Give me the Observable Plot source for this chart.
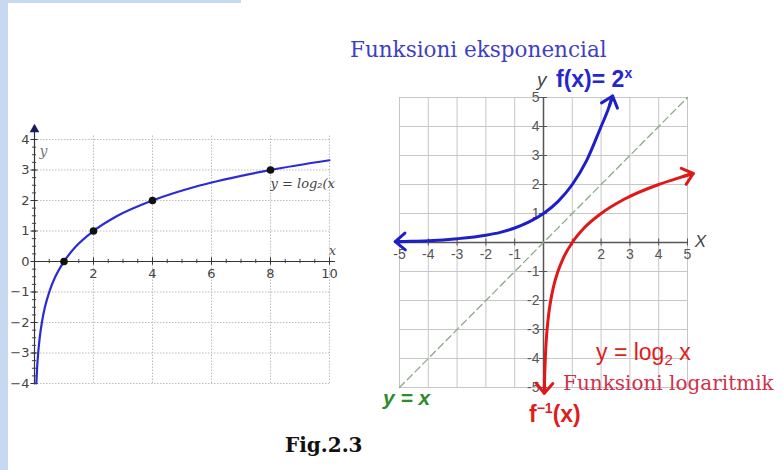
<!DOCTYPE html>
<html>
<head>
<meta charset="utf-8">
<script src="https://cdn.jsdelivr.net/npm/d3@7"></script>
<script src="https://cdn.jsdelivr.net/npm/@observablehq/plot@0.6"></script>
<style>
  html, body { margin: 0; padding: 0; background: #fff; }
  #page { position: relative; width: 782px; height: 470px; overflow: hidden; background: #fff; }
  .band { position: absolute; background: #c6d9f1; }
  .lbl { position: absolute; white-space: nowrap; line-height: 1; }
  #left, #right { position: absolute; }
  .serif { font-family: "DejaVu Serif", serif; }
  .sans { font-family: "Liberation Sans", Arial, sans-serif; }
  sup, sub { line-height: 0; }
</style>
</head>
<body>
<div id="page">
  <div class="band" style="left:0;top:0;width:8px;height:470px"></div>
  <div class="band" style="left:0;top:0;width:241px;height:3px"></div>
  <div id="left" style="left:0;top:110px"></div>
  <div id="right" style="left:370px;top:60px"></div>

  <div class="lbl serif" style="left:350px;top:39px;font-size:21.5px;color:#3f3fc4">Funksioni eksponencial</div>
  <div class="lbl sans" style="left:556px;top:68px;font-size:23px;font-weight:bold;color:#2626cc">f(x)= 2<sup style="font-size:14px;vertical-align:9px">x</sup></div>
  <div class="lbl sans" style="left:596px;top:341px;font-size:23px;color:#e01c1c">y = log<sub style="font-size:15px;vertical-align:-5px">2</sub> x</div>
  <div class="lbl serif" style="left:563px;top:373px;font-size:20px;color:#d0304a">Funksioni logaritmik</div>
  <div class="lbl sans" style="left:529px;top:403px;font-size:23px;font-weight:bold;color:#e01c1c">f<sup style="font-size:14px;vertical-align:9px">&minus;1</sup>(x)</div>
  <div class="lbl sans" style="left:383px;top:387px;font-size:21px;font-weight:bold;font-style:italic;color:#2e8b2e">y = x</div>
  <div class="lbl serif" style="left:285px;top:435px;font-size:20px;font-weight:bold;color:#111">Fig.2.3</div>
</div>
<script>
// ---- left panel: y = log2(x) with marked points ----
const logX = [0.0625, 0.09, 0.125, 0.18, 0.25, 0.35, 0.5, 0.7, 1, 1.4, 2, 2.8, 4, 5.6, 8, 10];
const logY = [-4, -3.47, -3, -2.47, -2, -1.51, -1, -0.51, 0, 0.49, 1, 1.49, 2, 2.49, 3, 3.32];
const markedX = [1, 2, 4, 8];
const markedY = [0, 1, 2, 3];
const leftXTicks = [2, 4, 6, 8, 10];
const leftYTicks = [-4, -3, -2, -1, 0, 1, 2, 3, 4];
const leftGridX = [2, 4, 6, 8, 10];
const leftGridY = [-4, -3, -2, -1, 1, 2, 3, 4];

// ---- right panel: f(x) = 2^x, its inverse log2(x), and y = x ----
const expX = [-5.15, -4.8, -4, -3, -2, -1.5, -1, -0.5, 0, 0.5, 1, 1.5, 2, 2.25, 2.4];
const expY = [0.028, 0.036, 0.06, 0.13, 0.25, 0.35, 0.5, 0.71, 1, 1.41, 2, 2.83, 4, 4.6, 5.05];
const invX = [0.027, 0.035, 0.0625, 0.09, 0.125, 0.18, 0.25, 0.35, 0.5, 0.7, 1, 1.4, 2, 2.8, 4, 4.7, 5.2];
const invY = [-5.2, -4.84, -4, -3.47, -3, -2.47, -2, -1.51, -1, -0.51, 0, 0.49, 1, 1.49, 2, 2.23, 2.38];
const diagX = [-5, 5];
const diagY = [-5, 5];
const gridTicks = [-5, -4, -3, -2, -1, 0, 1, 2, 3, 4, 5];
const rightXLabels = [-5, -4, -3, -2, -1, 2, 3, 4, 5];
const rightYLabels = [5, 4, 3, 2, 1, -1, -2, -3, -4, -5];

const fmt = d => d < 0 ? "\u2212" + Math.abs(d) : String(d);
const zip = (xs, ys) => xs.map((x, i) => ({x, y: ys[i]}));

// Open arrowheads at both ends of a curve. Each arrow runs along the end
// segment's direction; the inset hides its shaft so only the head shows.
function endArrows(pts, color) {
  const n = pts.length;
  const tipFrom = (tip, prev) => {
    const dx = tip.x - prev.x, dy = tip.y - prev.y, len = Math.hypot(dx, dy);
    return {x1: tip.x - dx / len * 1.6, y1: tip.y - dy / len * 1.6, x2: tip.x, y2: tip.y};
  };
  const segs = [tipFrom(pts[0], pts[1]), tipFrom(pts[n - 1], pts[n - 2])];
  return Plot.arrow(segs, {x1: "x1", y1: "y1", x2: "x2", y2: "y2", stroke: color,
    strokeWidth: 3, headLength: 6.5, headAngle: 80, insetStart: 36});
}

const left = Plot.plot({
  width: 341, height: 290,
  marginLeft: 34, marginRight: 12, marginTop: 29, marginBottom: 17,
  x: {domain: [0, 10], axis: null},
  y: {domain: [-4, 4], axis: null},
  style: {background: "transparent", overflow: "hidden", fontFamily: "DejaVu Sans, sans-serif"},
  marks: [
    Plot.ruleX(leftGridX, {y1: -4, y2: 4.15, stroke: "#bdbdbd", strokeDasharray: "1.5,1.5"}),
    Plot.ruleY(leftGridY, {x1: 0, x2: 10, stroke: "#bdbdbd", strokeDasharray: "1.5,1.5"}),
    Plot.ruleY([0], {x1: 0, x2: 10.2, stroke: "#333", strokeWidth: 1.2}),
    Plot.ruleX([0], {y1: -4.05, y2: 4.3, stroke: "#333", strokeWidth: 1.2}),
    Plot.ruleX(d3.range(0.5, 10.01, 0.5), {y1: -0.07, y2: 0.07, stroke: "#444"}),
    Plot.ruleY(d3.range(-4, 4.01, 0.25), {x1: -0.07, x2: 0.07, stroke: "#444"}),
    Plot.ruleX(leftXTicks, {y1: -0.12, y2: 0.12, stroke: "#333"}),
    Plot.ruleY(leftYTicks, {x1: -0.12, x2: 0.12, stroke: "#333"}),
    Plot.dot([{x: 0, y: 4.33}], {x: "x", y: "y", symbol: "triangle", r: 3.6, fill: "#1b1b5e"}),
    Plot.text(leftXTicks, {x: d => d, y: 0, text: fmt, dy: 12, fontSize: 13, fill: "#444"}),
    Plot.text(leftYTicks, {x: 0, y: d => d, text: fmt, dx: -5, textAnchor: "end", fontSize: 13, fill: "#444"}),
    Plot.text([{x: 0, y: 3.6}], {x: "x", y: "y", text: () => "y", dx: 9, fontSize: 14, fontStyle: "italic", fontFamily: "DejaVu Serif, serif", fill: "#777"}),
    Plot.text([{x: 10, y: 0}], {x: "x", y: "y", text: () => "x", dx: 3, dy: -11, fontSize: 13, fontStyle: "italic", fontFamily: "DejaVu Serif, serif", fill: "#555"}),
    Plot.line(zip(logX, logY), {x: "x", y: "y", curve: "monotone-x", stroke: "#2b2bd6", strokeWidth: 2.2}),
    Plot.dot(zip(markedX, markedY), {x: "x", y: "y", r: 3.8, fill: "#111"}),
    Plot.text([{x: 8, y: 3}], {x: "x", y: "y", text: () => "y = log\u2082(x", dy: 14, textAnchor: "start",
      fontSize: 13, fontStyle: "italic", fontFamily: "DejaVu Serif, serif", fill: "#444"})
  ]
});
document.getElementById("left").appendChild(left);

const expPts = zip(expX, expY);
const invPts = zip(invX, invY);

const right = Plot.plot({
  width: 412, height: 370,
  marginLeft: 29, marginRight: 95, marginTop: 37, marginBottom: 43,
  x: {domain: [-5, 5], axis: null},
  y: {domain: [-5, 5], axis: null},
  style: {background: "transparent", overflow: "visible", fontFamily: "Liberation Sans, Arial, sans-serif"},
  marks: [
    Plot.ruleX(gridTicks, {y1: -5, y2: 5, stroke: "#c6c6c6"}),
    Plot.ruleY(gridTicks, {x1: -5, x2: 5, stroke: "#c6c6c6"}),
    Plot.ruleY([0], {x1: -5, x2: 5, stroke: "#555", strokeWidth: 1.5}),
    Plot.ruleX([0], {y1: -5, y2: 5, stroke: "#555", strokeWidth: 1.5}),
    Plot.ruleX(gridTicks, {y1: -0.12, y2: 0.12, stroke: "#555"}),
    Plot.ruleY(gridTicks, {x1: -0.14, x2: 0.14, stroke: "#555"}),
    Plot.line(zip(diagX, diagY), {x: "x", y: "y", stroke: "#8da88d", strokeWidth: 1.3, strokeDasharray: "7,4"}),
    Plot.text(rightXLabels, {x: d => d, y: 0, text: d => String(d), dy: 12, fontSize: 14, fill: "#555"}),
    Plot.text(rightYLabels, {x: 0, y: d => d, text: d => String(d), dx: -4, textAnchor: "end", fontSize: 14, fill: "#555"}),
    Plot.text([{x: -0.06, y: 5.6}], {x: "x", y: "y", text: () => "y", fontSize: 19, fontStyle: "italic", fill: "#444"}),
    Plot.text([{x: 5.45, y: 0.05}], {x: "x", y: "y", text: () => "X", fontSize: 17, fontStyle: "italic", fill: "#444"}),
    Plot.line(expPts, {x: "x", y: "y", curve: "monotone-x", stroke: "#1f1fc8", strokeWidth: 3}),
    endArrows(expPts, "#1f1fc8"),
    Plot.line(invPts, {x: "x", y: "y", curve: "monotone-x", stroke: "#e01818", strokeWidth: 3}),
    endArrows(invPts, "#e01818")
  ]
});
document.getElementById("right").appendChild(right);
</script>
</body>
</html>
